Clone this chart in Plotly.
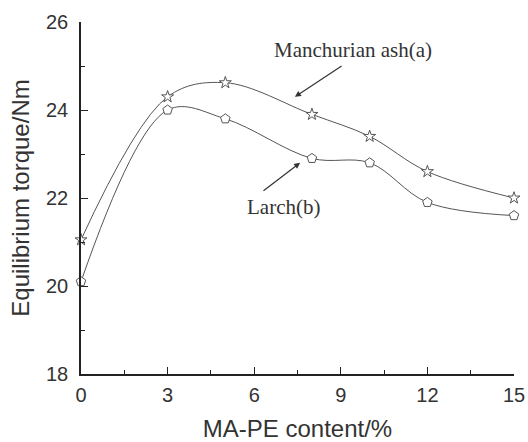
import plotly.graph_objects as go

mape_content = [0, 3, 5, 8, 10, 12, 15]
ash_torque = [21.05, 24.3, 24.62, 23.9, 23.4, 22.6, 22.0]
larch_torque = [20.1, 24.0, 23.8, 22.9, 22.8, 21.9, 21.6]
x_ticks = [0, 3, 6, 9, 12, 15]
y_ticks = [18, 20, 22, 24, 26]

line_col = "#555555"
fig = go.Figure()
fig.add_trace(go.Scatter(
    x=mape_content, y=ash_torque, mode="lines+markers",
    line=dict(shape="spline", smoothing=1.0, color=line_col, width=1),
    marker=dict(symbol="star", size=9, color="white", line=dict(color=line_col, width=1)),
    cliponaxis=False, showlegend=False))
fig.add_trace(go.Scatter(
    x=mape_content, y=larch_torque, mode="lines+markers",
    line=dict(shape="spline", smoothing=1.0, color=line_col, width=1),
    marker=dict(symbol="pentagon", size=10, color="white", line=dict(color=line_col, width=1)),
    cliponaxis=False, showlegend=False))

serif = "Liberation Serif, Times New Roman, serif"
fig.add_annotation(x=9.42, y=25.36, text="Manchurian ash(a)", showarrow=False,
                   font=dict(family=serif, size=21, color="#333"))
fig.add_annotation(x=7.41, y=24.30, ax=9.08, ay=25.02, axref="x", ayref="y", text="",
                   showarrow=True, arrowhead=2, arrowsize=1, arrowwidth=1.2, arrowcolor="#333")
fig.add_annotation(x=7.0, y=21.80, text="Larch(b)", showarrow=False,
                   font=dict(family=serif, size=21, color="#333"))
fig.add_annotation(x=7.59, y=22.80, ax=6.27, ay=22.14, axref="x", ayref="y", text="",
                   showarrow=True, arrowhead=2, arrowsize=1, arrowwidth=1.2, arrowcolor="#333")

fig.update_layout(
    width=528, height=442, margin=dict(l=81, r=14, t=22, b=68),
    plot_bgcolor="white", paper_bgcolor="white",
    font=dict(family="Liberation Sans, Arial, sans-serif", size=20, color="#333"),
)
fig.update_xaxes(range=[0, 15], tickvals=x_ticks, ticks="inside", ticklen=7, tickwidth=1.3,
                 tickcolor="#222", showline=True, linecolor="#222", linewidth=1.5,
                 showgrid=False, zeroline=False, ticklabelstandoff=2, automargin=False,
                 minor=dict(tickvals=[1.5, 4.5, 7.5, 10.5, 13.5], ticks="inside", ticklen=4, tickcolor="#222"),
                 title=dict(text="MA-PE content/%", standoff=16))
fig.update_yaxes(range=[18, 26], tickvals=y_ticks, ticks="inside", ticklen=7, tickwidth=1.3,
                 tickcolor="#222", showline=True, linecolor="#222", linewidth=1.5,
                 showgrid=False, zeroline=False, ticklabelstandoff=7, automargin=False,
                 minor=dict(tickvals=[19, 21, 23, 25], ticks="inside", ticklen=4, tickcolor="#222"),
                 title=dict(text="Equilibrium torque/Nm", standoff=10))
fig.write_html("out.html")
